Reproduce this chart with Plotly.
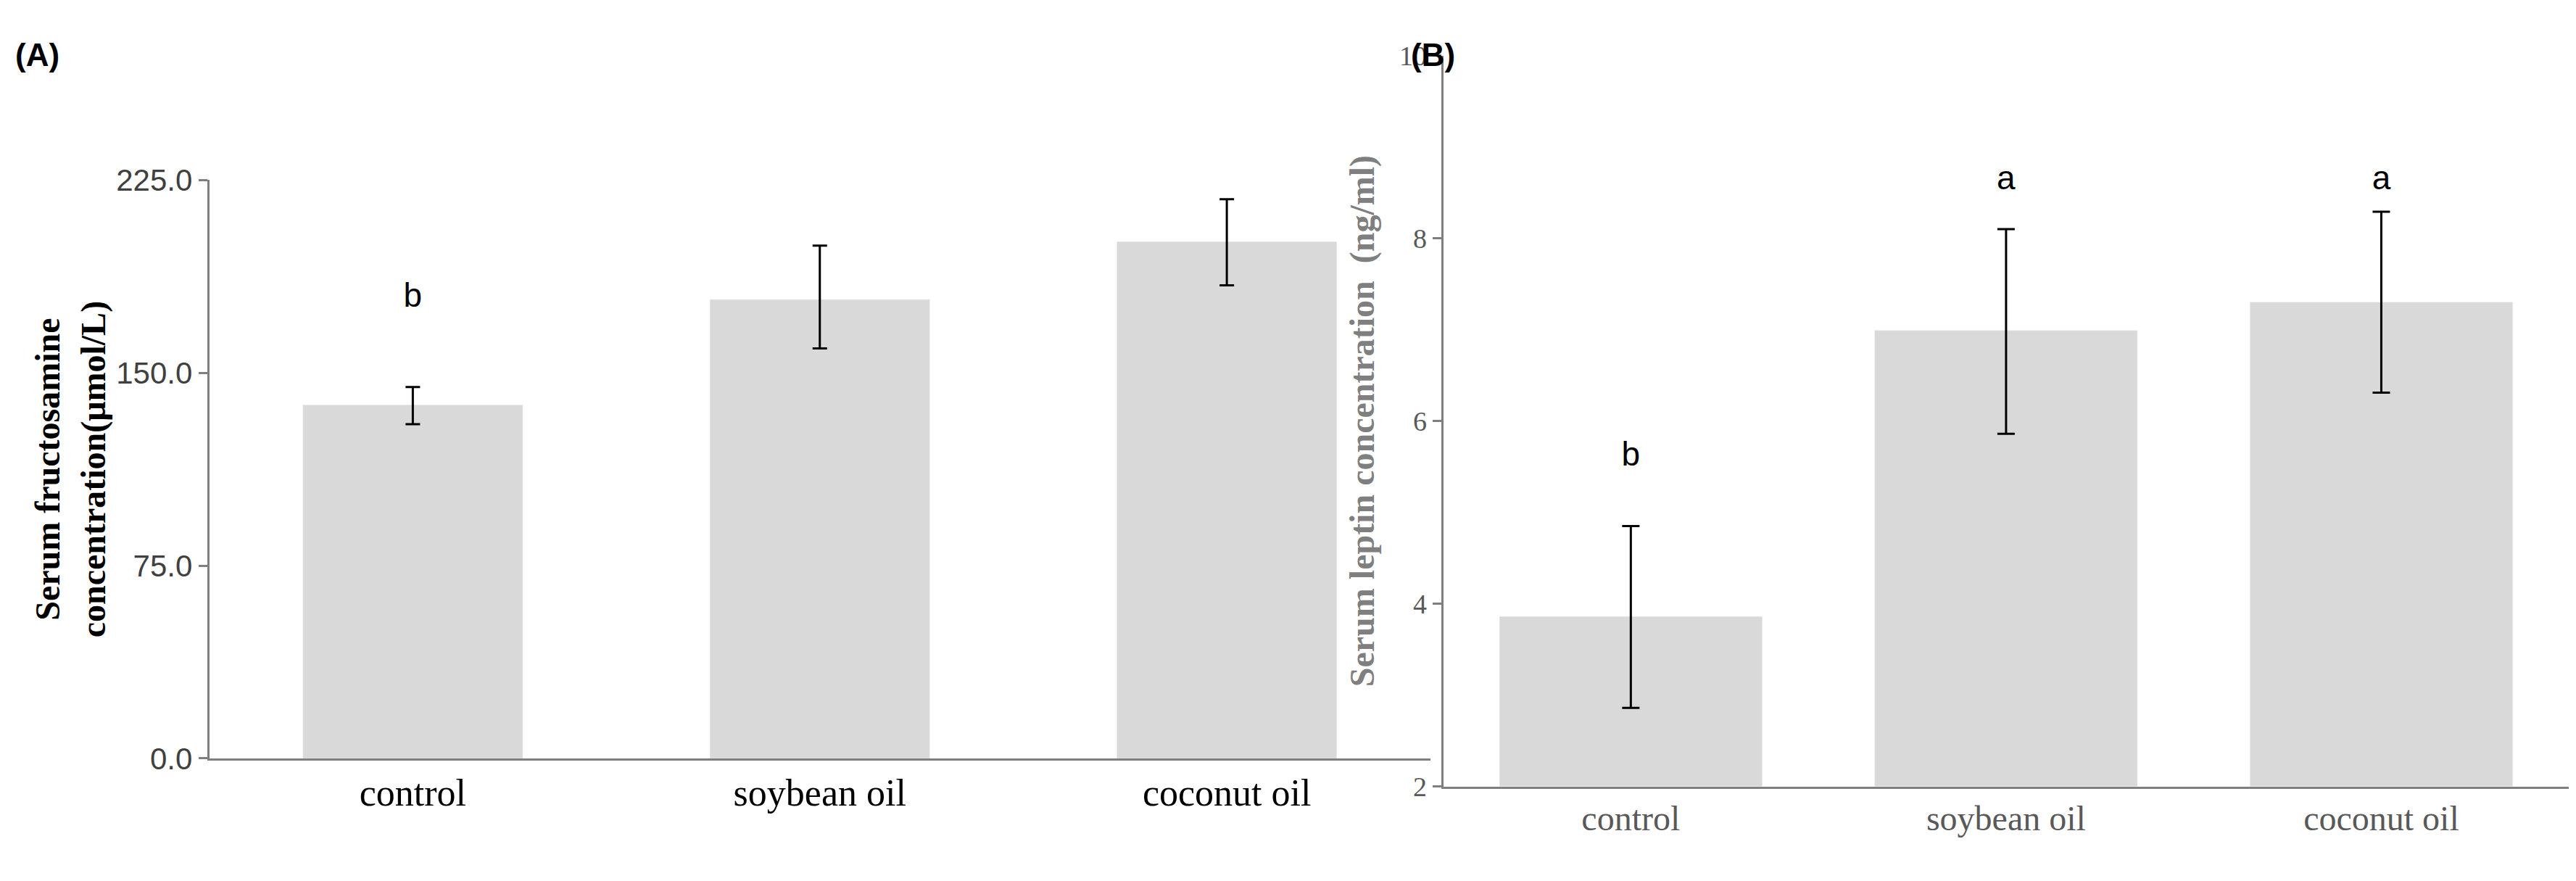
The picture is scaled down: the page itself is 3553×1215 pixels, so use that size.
import plotly.graph_objects as go

groups = ['control', 'soybean oil', 'coconut oil']

# panel A: serum fructosamine (umol/L)
fruc_mean = [137.5, 178.5, 201.0]
fruc_err_hi = [144.5, 199.5, 217.5]
fruc_err_lo = [130.0, 159.5, 184.0]
fruc_letters = ['b', 'ab', 'a']
fruc_letter_y = [179, 234, 246]

# panel B: serum leptin (ng/ml)
lep_mean = [3.86, 6.99, 7.30]
lep_err_hi = [4.85, 8.10, 8.29]
lep_err_lo = [2.86, 5.86, 6.31]
lep_letters = ['b', 'a', 'a']
lep_letter_y = [5.6, 8.63, 8.63]

bar_col = '#d9d9d9'
grey = '#7f7f7f'

fig = go.Figure()

fig.add_trace(go.Bar(
    x=groups, y=fruc_mean, marker_color=bar_col, xaxis='x', yaxis='y', cliponaxis=False,
    error_y=dict(type='data', symmetric=False,
                 array=[h - m for h, m in zip(fruc_err_hi, fruc_mean)],
                 arrayminus=[m - l for l, m in zip(fruc_err_lo, fruc_mean)],
                 color='black', thickness=3, width=10)))
fig.add_trace(go.Scatter(
    x=groups, y=fruc_letter_y, text=fruc_letters, mode='text', xaxis='x', yaxis='y',
    cliponaxis=False, textfont=dict(family='Liberation Sans', size=46, color='black')))

fig.add_trace(go.Bar(
    x=groups, y=lep_mean, marker_color=bar_col, xaxis='x2', yaxis='y2', width=0.7,
    error_y=dict(type='data', symmetric=False,
                 array=[h - m for h, m in zip(lep_err_hi, lep_mean)],
                 arrayminus=[m - l for l, m in zip(lep_err_lo, lep_mean)],
                 color='black', thickness=3, width=12)))
fig.add_trace(go.Scatter(
    x=groups, y=lep_letter_y, text=lep_letters, mode='text', xaxis='x2', yaxis='y2',
    textfont=dict(family='Liberation Sans', size=46, color='black')))

fig.update_layout(
    width=3553, height=1215, showlegend=False, bargap=0.46,
    plot_bgcolor='white', paper_bgcolor='white',
    margin=dict(l=0, r=0, t=0, b=0),
    xaxis=dict(domain=[0.079, 0.553], anchor='y', showline=True, linecolor=grey, linewidth=3,
               ticks='', tickfont=dict(family='Liberation Serif', size=52, color='black')),
    yaxis=dict(domain=[0.131, 0.814], range=[0, 225], tickvals=[0, 75, 150, 225],
               ticktext=['0.0', '75.0', '150.0', '225.0'], showgrid=False, zeroline=False,
               showline=True, linecolor=grey, linewidth=3, ticks='outside', ticklen=12,
               tickcolor=grey, tickwidth=3,
               tickfont=dict(family='Liberation Sans Narrow, Liberation Sans', size=42, color='#404040'),
               title=dict(text='<b>Serum fructosamine<br>concentration(μmol/L)</b>', standoff=0,
                          font=dict(family='Liberation Serif', size=48, color='black'))),
    xaxis2=dict(domain=[0.558, 0.995], anchor='y2', showline=True, linecolor=grey, linewidth=3,
                ticks='', tickfont=dict(family='Liberation Serif', size=48, color='#595959')),
    yaxis2=dict(domain=[0.098, 0.961], range=[2, 10], dtick=2, showgrid=False, zeroline=False,
                showline=True, linecolor=grey, linewidth=3, ticks='outside', ticklen=12,
                tickcolor=grey, tickwidth=3, anchor='x2',
                tickfont=dict(family='Liberation Serif', size=38, color='#595959'),
                title=dict(text='<b>Serum leptin concentration  (ng/ml)</b>', standoff=20,
                           font=dict(family='Liberation Serif', size=48, color=grey))),
    annotations=[
        dict(text='<b>(A)</b>', x=0.003, y=0.985, xref='paper', yref='paper', showarrow=False,
             xanchor='left', yanchor='top', font=dict(family='Liberation Sans', size=44, color='black')),
        dict(text='<b>(B)</b>', x=0.545, y=0.985, xref='paper', yref='paper', showarrow=False,
             xanchor='left', yanchor='top', font=dict(family='Liberation Sans', size=44, color='black')),
    ],
)

fig.write_html("out.html")
